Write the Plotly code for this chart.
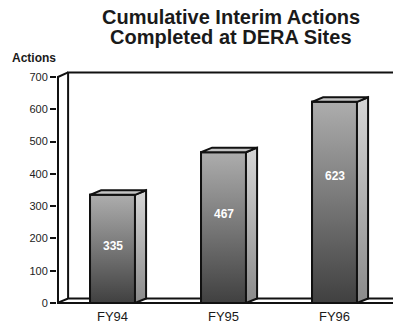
import plotly.graph_objects as go

# Chart data
categories = ["FY94", "FY95", "FY96"]
actions = [335, 467, 623]
y_ticks = [0, 100, 200, 300, 400, 500, 600, 700]
title_lines = ["Cumulative Interim Actions", "Completed at DERA Sites"]
y_title = "Actions"

# Geometry of the pseudo-3D drawing (data units)
BAR_W = 0.405          # width of a bar's front face
DX, DY = 0.10, 14      # depth offset of the back faces
X_MIN, X_MAX = -0.5, 2.527
Y_MIN, Y_MAX = -12.4, 746.4
WALL_TOP = y_ticks[-1]

INK = "#111111"
LW = 2
FONT = "Arial, Liberation Sans, sans-serif"

xs = list(range(len(categories)))
fig = go.Figure()

# Data bars (front faces); the shaded faces drawn below sit on top of them
fig.add_trace(go.Bar(
    x=xs, y=actions, width=BAR_W,
    marker=dict(color="#7a7a7a", line=dict(color=INK, width=LW)),
    hoverinfo="skip", showlegend=False,
))


def poly(px, py, **kw):
    fig.add_trace(go.Scatter(
        x=px + [px[0]], y=py + [py[0]], mode="lines", fill="toself",
        line=dict(color=INK, width=LW), hoverinfo="skip", showlegend=False, **kw))


def path(px, py, width=LW):
    fig.add_trace(go.Scatter(
        x=px, y=py, mode="lines", line=dict(color=INK, width=width),
        hoverinfo="skip", showlegend=False))


# Floor slab
poly([X_MIN, X_MIN + DX, X_MAX + 0.05, X_MAX + 0.05], [0, DY, DY, 0], fillcolor="white")

# Back wall: left edge and top edge
path([X_MIN + DX, X_MIN + DX, X_MAX + 0.05], [DY, WALL_TOP + DY, WALL_TOP + DY])

# Value axis line joined to the wall corner
ax = X_MIN + 0.009
path([ax, ax, X_MIN + DX], [0, WALL_TOP, WALL_TOP + DY])

front_grad = dict(type="vertical", colorscale=[[0, "#404040"], [0.5, "#777777"], [1, "#adadad"]])
side_grad = dict(type="vertical", colorscale=[[0, "#8a8a8a"], [1, "#d6d6d6"]])

for x, v in zip(xs, actions):
    xl, xr = x - BAR_W / 2, x + BAR_W / 2
    # front face shading
    poly([xl, xr, xr, xl], [0, 0, v, v], fillgradient=front_grad)
    # side face
    poly([xr, xr + DX, xr + DX, xr], [0, DY, v + DY, v], fillgradient=side_grad)
    # top face
    poly([xl, xl + DX, xr + DX, xr], [v, v + DY, v + DY, v], fillcolor="#c4c4c4")
    # value label inside the bar (placed a little higher on taller bars)
    fig.add_annotation(
        x=x, y=v / 2 + (v - 300) / 4, xref="x", yref="y", text=f"<b>{v}</b>", showarrow=False,
        font=dict(family=FONT, size=12, color="white"),
    )

# Title (two tightly spaced lines) and value axis caption
fig.add_annotation(x=0.518, y=1.184, xref="paper", yref="paper", xanchor="center", yanchor="middle",
                   text=f"<b>{title_lines[0]}</b>", showarrow=False,
                   font=dict(family=FONT, size=20, color="#1a1a1a"))
fig.add_annotation(x=0.518, y=1.104, xref="paper", yref="paper", xanchor="center", yanchor="middle",
                   text=f"<b>{title_lines[1]}</b>", showarrow=False,
                   font=dict(family=FONT, size=20, color="#1a1a1a"))
fig.add_annotation(x=-0.068, y=1.016, xref="paper", yref="paper", xanchor="center", yanchor="middle",
                   text=f"<b>{y_title}</b>", showarrow=False,
                   font=dict(family=FONT, size=12, color="#1a1a1a"))

fig.update_layout(
    width=393, height=330,
    margin=dict(l=57, r=0, t=62, b=23),
    paper_bgcolor="white", plot_bgcolor="white",
    showlegend=False,
    xaxis=dict(range=[X_MIN, X_MAX], tickvals=xs, ticktext=categories,
               showgrid=False, zeroline=False, showline=False, ticks="",
               tickfont=dict(family=FONT, size=13, color="#1a1a1a")),
    yaxis=dict(range=[Y_MIN, Y_MAX], tickvals=y_ticks,
               showgrid=False, zeroline=False, showline=False,
               ticks="outside", ticklen=6, tickwidth=1.5, tickcolor=INK,
               tickfont=dict(family=FONT, size=11, color="#222222")),
)

fig.write_html("out.html")
